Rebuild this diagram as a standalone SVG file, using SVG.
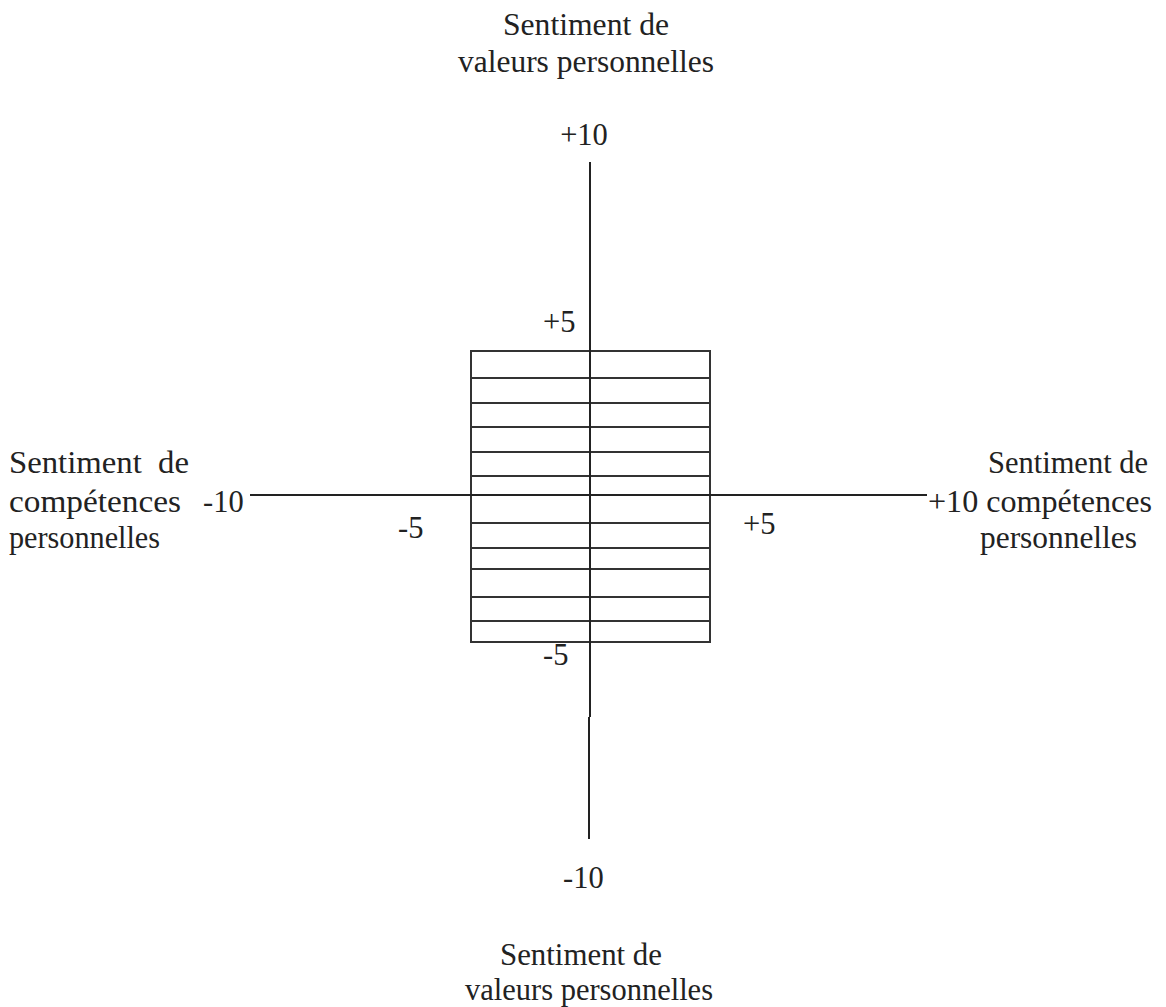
<svg xmlns="http://www.w3.org/2000/svg" width="1166" height="1007" viewBox="0 0 1166 1007">
<style>
text{font-family:"Liberation Serif","Times New Roman",serif;font-size:30.5px;fill:#222}
.ax{stroke:#222;stroke-width:2;fill:none}
.g{stroke:#333;stroke-width:2;fill:none}
.m{text-anchor:middle}
</style>
<rect width="1166" height="1007" fill="#fff"/>
<g id="grid">
<rect class="g" x="471" y="351" width="239" height="291"/>
<path class="g" d="M471 378H710M471 403H710M471 427H710M471 452H710M471 476H710M471 523H710M471 548H710M471 569H710M471 597H710M471 621H710"/>
</g>
<g id="axes">
<line class="ax" x1="590" y1="162" x2="590" y2="717"/>
<line class="ax" x1="589" y1="717" x2="589" y2="839"/>
<line class="ax" x1="250" y1="495" x2="927" y2="495"/>
</g>
<g id="top-label">
<text x="503" y="35" textLength="166" lengthAdjust="spacingAndGlyphs">Sentiment de</text>
<text x="458" y="72" textLength="256" lengthAdjust="spacingAndGlyphs">valeurs personnelles</text>
</g>
<g id="bottom-label">
<text x="500" y="965" textLength="162" lengthAdjust="spacingAndGlyphs">Sentiment de</text>
<text x="465" y="1000" textLength="248" lengthAdjust="spacingAndGlyphs">valeurs personnelles</text>
</g>
<g id="left-label">
<text x="9" y="473" xml:space="preserve" textLength="180" lengthAdjust="spacingAndGlyphs">Sentiment  de</text>
<text x="9" y="512" textLength="172" lengthAdjust="spacingAndGlyphs">compétences</text>
<text x="9" y="548" textLength="151" lengthAdjust="spacingAndGlyphs">personnelles</text>
</g>
<g id="right-label">
<text x="988" y="473" textLength="160" lengthAdjust="spacingAndGlyphs">Sentiment de</text>
<text x="928" y="512" textLength="224" lengthAdjust="spacingAndGlyphs">+10 compétences</text>
<text x="980" y="548" textLength="157" lengthAdjust="spacingAndGlyphs">personnelles</text>
</g>
<g id="ticks">
<text class="m" x="584" y="145">+10</text>
<text x="543" y="332">+5</text>
<text x="203" y="512">-10</text>
<text x="398" y="538">-5</text>
<text x="743" y="534">+5</text>
<text x="543" y="665">-5</text>
<text x="563" y="888">-10</text>
</g>
</svg>
